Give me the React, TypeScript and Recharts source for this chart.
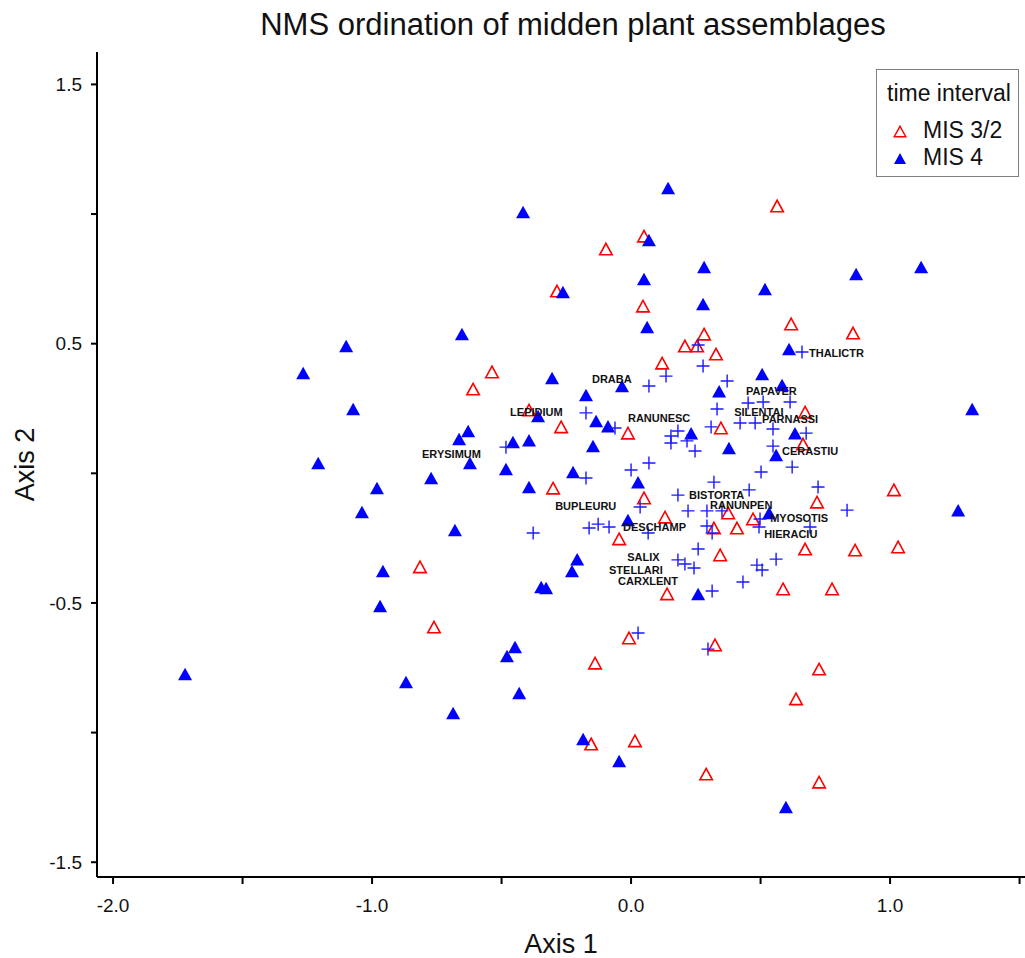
import { ScatterChart, Scatter, XAxis, YAxis, Legend } from "recharts";

const FONT = '"Liberation Sans", Arial, Helvetica, sans-serif';

// sample scores, MIS 3/2 (open red triangles)
const mis32: [number, number][] = [
  [0.564, 1.031], [0.05, 0.915], [-0.097, 0.865], [-0.286, 0.703], [0.046, 0.645],
  [0.618, 0.576], [0.857, 0.541], [0.282, 0.537], [0.208, 0.491], [0.255, 0.491],
  [0.328, 0.46], [0.12, 0.425], [-0.537, 0.391], [-0.61, 0.325], [-0.394, 0.244],
  [-0.27, 0.179], [0.672, 0.236], [0.347, 0.175], [-0.012, 0.155], [0.664, 0.113],
  [-0.301, -0.057], [1.015, -0.064], [0.05, -0.095], [0.718, -0.111], [0.131, -0.169],
  [0.375, -0.153], [0.471, -0.176], [0.32, -0.211], [0.409, -0.211], [-0.046, -0.253],
  [0.344, -0.315], [0.672, -0.292], [0.865, -0.296], [1.031, -0.284], [-0.815, -0.361],
  [0.139, -0.465], [0.587, -0.446], [0.776, -0.446], [-0.761, -0.593], [-0.008, -0.635],
  [0.324, -0.662], [-0.139, -0.732], [0.726, -0.755], [0.637, -0.87], [-0.154, -1.044],
  [0.015, -1.032], [0.29, -1.16], [0.726, -1.191],
];

// sample scores, MIS 4 (filled blue triangles)
const mis4: [number, number][] = [
  [0.143, 1.1], [-0.417, 1.008], [0.069, 0.9], [0.05, 0.749], [0.282, 0.796],
  [-0.263, 0.699], [0.517, 0.711], [1.12, 0.796], [0.869, 0.769], [0.278, 0.653],
  [0.062, 0.564], [-0.653, 0.537], [-1.1, 0.491], [-1.266, 0.387], [-0.305, 0.368],
  [0.506, 0.383], [0.583, 0.341], [0.61, 0.479], [-0.174, 0.302], [-0.035, 0.337],
  [0.34, 0.317], [1.317, 0.248], [-1.073, 0.248], [-0.359, 0.221], [-0.135, 0.202],
  [-0.089, 0.182], [-0.664, 0.132], [-0.629, 0.163], [-0.456, 0.121], [-0.394, 0.128],
  [-0.147, 0.105], [0.232, 0.155], [0.633, 0.155], [0.378, 0.098], [0.56, 0.071],
  [-1.208, 0.04], [-0.622, 0.04], [-0.483, 0.017], [-0.224, 0.005], [-0.772, -0.018],
  [0.027, -0.034], [-0.981, -0.057], [-0.394, -0.053], [-1.039, -0.149], [1.263, -0.142],
  [0.533, -0.153], [-0.68, -0.219], [-0.012, -0.18], [-0.208, -0.331], [-0.228, -0.377],
  [-0.958, -0.377], [-0.969, -0.512], [-0.347, -0.438], [-0.328, -0.442], [0.259, -0.465],
  [-0.448, -0.67], [-0.479, -0.705], [-0.869, -0.805], [-0.432, -0.847], [-0.687, -0.924],
  [-1.722, -0.774], [-0.185, -1.025], [-0.046, -1.11], [0.598, -1.287],
];

// species scores (blue crosses)
const species: [number, number][] = [
  [0.66, 0.468], [0.259, 0.495], [0.278, 0.414], [0.135, 0.375], [0.069, 0.337],
  [0.371, 0.356], [0.452, 0.271], [0.51, 0.275], [0.614, 0.275], [-0.174, 0.233],
  [-0.062, 0.175], [0.332, 0.248], [0.309, 0.179], [0.421, 0.194], [0.479, 0.194],
  [0.548, 0.171], [0.676, 0.155], [0.181, 0.163], [0.154, 0.144], [0.154, 0.117],
  [0.216, 0.125], [0.247, 0.086], [-0.483, 0.101], [0.548, 0.105], [0.069, 0.04],
  [0.0, 0.013], [0.502, 0.005], [0.622, 0.024], [-0.174, -0.018], [0.32, -0.034],
  [0.181, -0.084], [0.456, -0.064], [0.722, -0.053], [0.035, -0.13], [0.22, -0.145],
  [0.293, -0.145], [0.351, -0.145], [-0.162, -0.211], [-0.127, -0.196], [-0.085, -0.207],
  [-0.378, -0.23], [0.066, -0.23], [0.293, -0.203], [0.313, -0.23], [0.498, -0.176],
  [0.494, -0.207], [0.691, -0.207], [0.834, -0.142], [0.259, -0.292], [0.56, -0.331],
  [0.181, -0.334], [0.208, -0.35], [0.243, -0.365], [0.486, -0.354], [0.506, -0.373],
  [0.432, -0.419], [0.313, -0.454], [0.027, -0.616], [0.297, -0.678],
];

// species names, placed at the left end of each label
const speciesNames = [
  "THALICTR", "PAPAVER", "SILENTAI", "PARNASSI", "CERASTIU", "BISTORTA",
  "RANUNPEN", "MYOSOTIS", "HIERACIU", "DRABA", "LEPIDIUM", "RANUNESC",
  "ERYSIMUM", "BUPLEURU", "DESCHAMP", "SALIX", "STELLARI", "CARXLENT",
];
const labelPos: [number, number][] = [
  [0.687, 0.464], [0.444, 0.317], [0.398, 0.236], [0.506, 0.209], [0.583, 0.086], [0.224, -0.084],
  [0.305, -0.122], [0.537, -0.172], [0.514, -0.234], [-0.151, 0.364], [-0.467, 0.236], [-0.012, 0.213],
  [-0.807, 0.074], [-0.293, -0.126], [-0.031, -0.207], [-0.015, -0.323], [-0.085, -0.373], [-0.05, -0.416],
];

const xTicks = [-2, -1.5, -1, -0.5, 0, 0.5, 1, 1.5];
const yTicks = [-1.5, -1, -0.5, 0, 0.5, 1, 1.5];

const toPts = (arr: [number, number][]) => arr.map(([x, y]) => ({ x, y }));
const labels = speciesNames.map((name, i) => ({ x: labelPos[i][0], y: labelPos[i][1], name }));

const tri = (cx: number, cy: number, w: number, h: number) =>
  `M${cx},${cy - h / 2}L${cx + w / 2},${cy + h / 2}L${cx - w / 2},${cy + h / 2}Z`;

const OpenTri = (p: any) => (
  <path d={tri(p.cx, p.cy, 12.5, 11.5)} fill="#fff" stroke="#f00" strokeWidth={1.6} />
);
const FilledTri = (p: any) => <path d={tri(p.cx, p.cy, 14, 12.5)} fill="#00f" />;
const Cross = (p: any) => (
  <path
    d={`M${p.cx - 6.5},${p.cy}H${p.cx + 6.5}M${p.cx},${p.cy - 6.5}V${p.cy + 6.5}`}
    stroke="#1a1aff"
    strokeWidth={1.4}
    fill="none"
  />
);
const NameText = (p: any) => (
  <text
    x={p.cx}
    y={p.cy}
    dy="0.36em"
    fontSize={11}
    fontWeight="bold"
    fontFamily={FONT}
    fill="#111"
  >
    {p.payload?.name}
  </text>
);

function LegendBox() {
  return (
    <div
      style={{
        width: 141,
        height: 106,
        border: "1px solid #808080",
        background: "#fff",
        fontFamily: FONT,
        fontSize: 23,
        color: "#111",
        position: "relative",
        lineHeight: "normal",
      }}
    >
      <div style={{ position: "absolute", left: 10, top: 10, whiteSpace: "nowrap" }}>time interval</div>
      <svg style={{ position: "absolute", left: 16, top: 55 }} width={14} height={13}>
        <path d={tri(7, 6.5, 11.5, 10.5)} fill="#fff" stroke="#f00" strokeWidth={1.5} />
      </svg>
      <div style={{ position: "absolute", left: 46, top: 47, whiteSpace: "nowrap" }}>MIS 3/2</div>
      <svg style={{ position: "absolute", left: 16, top: 82 }} width={14} height={13}>
        <path d={tri(7, 6.5, 12, 11)} fill="#00f" />
      </svg>
      <div style={{ position: "absolute", left: 46, top: 74, whiteSpace: "nowrap" }}>MIS 4</div>
    </div>
  );
}

const fmtX = (v: number) => (Number.isInteger(v) ? v.toFixed(1) : "");
const fmtY = (v: number) => (Number.isInteger(v) ? "" : v.toFixed(1));

export default function App() {
  return (
    <div style={{ position: "absolute", left: 0, top: 0, width: 1025, height: 958, background: "#fff" }}>
      <div
        style={{
          position: "absolute",
          left: 173,
          top: 7,
          width: 800,
          textAlign: "center",
          fontFamily: FONT,
          fontSize: 31,
          lineHeight: "normal",
          whiteSpace: "nowrap",
          color: "#111",
        }}
      >
        NMS ordination of midden plant assemblages
      </div>
      <ScatterChart width={1025} height={958} margin={{ top: 52, right: 0, bottom: 0, left: 0 }}>
        <XAxis
          type="number"
          dataKey="x"
          domain={[-2.062, 1.521]}
          allowDataOverflow
          ticks={xTicks}
          tickFormatter={fmtX}
          height={81}
          tickSize={7}
          tickMargin={15}
          axisLine={{ stroke: "#000", strokeWidth: 2 }}
          tickLine={{ stroke: "#000", strokeWidth: 2 }}
          tick={{ fill: "#111", fontSize: 19, fontFamily: FONT }}
          label={{
            value: "Axis 1",
            position: "insideBottom",
            offset: 5,
            style: { fontSize: 27, fill: "#111", fontFamily: FONT },
          }}
        />
        <XAxis
          xAxisId="top"
          orientation="top"
          type="number"
          domain={[-2.062, 1.521]}
          allowDataOverflow
          height={0}
          tick={false}
          tickLine={false}
          axisLine={{ stroke: "#333", strokeWidth: 2 }}
        />
        <YAxis
          type="number"
          dataKey="y"
          domain={[-1.557, 1.625]}
          allowDataOverflow
          ticks={yTicks}
          tickFormatter={fmtY}
          width={97}
          tickSize={6}
          tickMargin={9}
          axisLine={{ stroke: "#000", strokeWidth: 2 }}
          tickLine={{ stroke: "#000", strokeWidth: 2 }}
          tick={{ fill: "#111", fontSize: 19, fontFamily: FONT }}
          label={{
            value: "Axis 2",
            angle: -90,
            position: "insideLeft",
            offset: 24,
            style: { textAnchor: "middle", fontSize: 27, fill: "#111", fontFamily: FONT },
          }}
        />
        <Legend
          layout="horizontal"
          verticalAlign="middle"
          align="center"
          content={() => <LegendBox />}
          wrapperStyle={{ position: "absolute", left: 876, top: 69, width: 143, height: 108 }}
        />
        <Scatter name="MIS 3/2" data={toPts(mis32)} shape={OpenTri} isAnimationActive={false} />
        <Scatter name="MIS 4" data={toPts(mis4)} shape={FilledTri} isAnimationActive={false} />
        <Scatter name="species" data={toPts(species)} shape={Cross} isAnimationActive={false} legendType="none" />
        <Scatter name="labels" data={labels} shape={NameText} isAnimationActive={false} legendType="none" />
      </ScatterChart>
    </div>
  );
}
